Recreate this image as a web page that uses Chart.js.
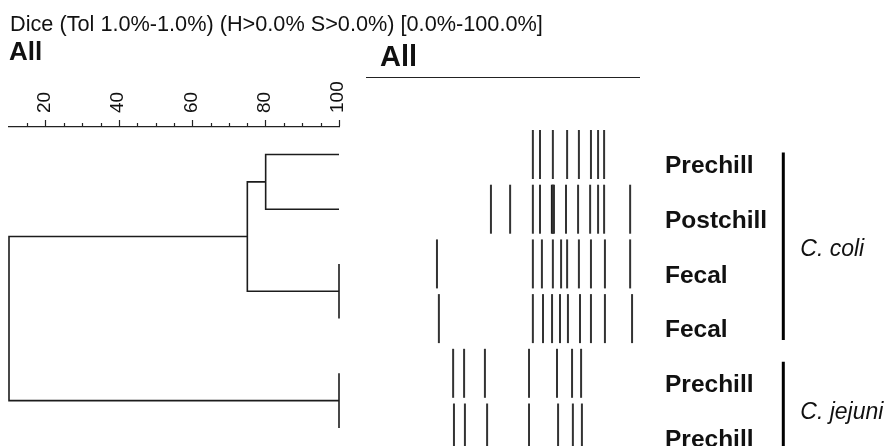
<!DOCTYPE html>
<html>
<head>
<meta charset="utf-8">
<script src="https://cdn.jsdelivr.net/npm/chart.js@4.4.1/dist/chart.umd.min.js"></script>
<style>
  body { margin: 0; background: #fff; }
  #wrap { position: relative; width: 886px; height: 446px; overflow: hidden;
          font-family: "Liberation Sans", Arial, sans-serif; color: #111; }
  .t { position: absolute; line-height: 1; white-space: nowrap; }
  #dendroBox { position: absolute; left: 0; top: 0; width: 350px; height: 446px; }
  #gelBox { position: absolute; left: 350px; top: 0; width: 536px; height: 446px; }
  #rule { position: absolute; left: 366px; top: 77px; width: 274px; height: 0; border-top: 1.5px solid #222; }
</style>
</head>
<body>
<div id="wrap">
  <div id="dendroBox"><canvas id="dendro"></canvas></div>
  <div id="gelBox"><canvas id="gel"></canvas></div>
  <div id="rule"></div>
</div>
<script>
const samples = ['Prechill', 'Postchill', 'Fecal', 'Fecal', 'Prechill', 'Prechill'];
const species = ['C. coli', 'C. jejuni'];
const speciesSpan = [[0.963, 4.39], [4.79, 6.75]];   // rows covered by each bracket
const speciesLabelRow = [2.86, 5.84];
const scaleLabels = [20, 40, 60, 80, 100];

// dendrogram merges: node ids (0-5 leaves, 6+ earlier merges) and Dice similarity (%)
const mergePairs = [[0, 1], [2, 3], [6, 7], [4, 5], [8, 9]];
const mergeSim = [80, 100, 75, 100, 10];

// band positions, % of the gel lane width
const bands1 = [60.9, 63.5, 68.2, 73.4, 77.7, 82.1, 84.7, 86.9];
const bands2 = [45.6, 52.6, 60.9, 63.5, 68.2, 73.0, 77.4, 81.8, 84.7, 86.9, 96.4];
const bands3 = [25.9, 60.9, 64.2, 68.2, 71.2, 73.4, 77.7, 82.1, 87.2, 96.4];
const bands4 = [26.6, 60.9, 64.6, 67.9, 70.8, 73.7, 78.1, 82.1, 87.2, 97.1];
const bands5 = [31.8, 35.8, 43.4, 59.5, 69.7, 75.2, 78.5];
const bands6 = [32.1, 36.1, 44.2, 59.5, 70.1, 75.5, 78.8];
const bandRows = [bands1, bands2, bands3, bands4, bands5, bands6];
const strongBands = [[2, 68.2]];   // row, position

const yMin = 0.497, yMax = 6.329;
const gelMax = 189.78;
const bracketPos = 152.3;

// build bracket paths of the tree
const nodes = samples.map((s, i) => ({ x: 100, y: i + 1 }));
const treePts = [];
mergePairs.forEach(([a, b], k) => {
  const A = nodes[a], B = nodes[b], s = mergeSim[k];
  treePts.push({ x: A.x, y: A.y }, { x: s, y: A.y }, { x: s, y: B.y }, { x: B.x, y: B.y }, { x: s, y: null });
  nodes.push({ x: s, y: (A.y + B.y) / 2 });
});

const minorTicks = {
  id: 'minorTicks',
  afterDraw(chart) {
    const s = chart.scales.x, ctx = chart.ctx;
    ctx.save();
    ctx.strokeStyle = '#222';
    ctx.lineWidth = 1.2;
    s.ticks.forEach(t => {
      if (scaleLabels.includes(t.value) || t.value <= s.min) return;
      const px = Math.round(s.getPixelForValue(t.value)) + 0.5;
      ctx.beginPath();
      ctx.moveTo(px, s.bottom);
      ctx.lineTo(px, s.bottom - 4);
      ctx.stroke();
    });
    ctx.restore();
  }
};

new Chart(document.getElementById('dendro'), {
  type: 'line',
  data: { datasets: [{ data: treePts, borderColor: '#1c1c1c', borderWidth: 1.6,
                       pointRadius: 0, tension: 0, clip: false, spanGaps: false }] },
  options: {
    responsive: true, maintainAspectRatio: false, animation: false, events: [],
    layout: { autoPadding: false, padding: { left: 9, right: 11, top: 77, bottom: 0 } },
    plugins: { legend: { display: false }, tooltip: { enabled: false } },
    scales: {
      x: {
        type: 'linear', position: 'top', min: 10, max: 100,
        afterFit(scale) { scale.height = 50; scale.paddingLeft = 0; scale.paddingRight = 0; },
        ticks: {
          stepSize: 5, autoSkip: false, minRotation: 90, maxRotation: 90, padding: 7, labelOffset: 22,
          color: '#111', font: { family: '"Liberation Sans", Arial', size: 19 },
          callback: v => scaleLabels.includes(v) ? String(v) : ''
        },
        grid: {
          drawOnChartArea: false, drawTicks: true, tickLength: 7, tickWidth: 1.2,
          tickColor: ctx => scaleLabels.includes(ctx.tick && ctx.tick.value) ? '#222' : 'rgba(0,0,0,0)'
        },
        border: { display: true, color: '#222', width: 1.2 }
      },
      y: { type: 'linear', display: false, reverse: true, min: yMin, max: yMax }
    }
  },
  plugins: [minorTicks]
});

const gelSets = bandRows.map((row, r) => ({
  type: 'scatter',
  data: row.map(x => ({ x, y: r + 1 })),
  pointStyle: 'line', pointRotation: 90, pointRadius: 24.5,
  pointBorderWidth: 2, pointBorderColor: '#333', pointBackgroundColor: '#333', clip: false
}));
gelSets.push({
  type: 'scatter',
  data: strongBands.map(([r, x]) => ({ x, y: r })),
  pointStyle: 'line', pointRotation: 90, pointRadius: 24.5,
  pointBorderWidth: 4, pointBorderColor: '#1a1a1a', clip: false
});
speciesSpan.forEach(([a, b]) => gelSets.push({
  type: 'line',
  data: [{ x: bracketPos, y: a }, { x: bracketPos, y: b }],
  borderColor: '#000', borderWidth: 3, pointRadius: 0, clip: false
}));

const gel = new Chart(document.getElementById('gel'), {
  type: 'scatter',
  data: { datasets: gelSets },
  options: {
    responsive: true, maintainAspectRatio: false, animation: false, events: [],
    layout: { autoPadding: false, padding: { left: 16, right: 0, top: 127, bottom: 0 } },
    plugins: { legend: { display: false }, tooltip: { enabled: false } },
    scales: {
      x: { type: 'linear', display: false, min: 0, max: gelMax },
      y: { type: 'linear', display: false, reverse: true, min: yMin, max: yMax }
    }
  }
});

// text
const wrap = document.getElementById('wrap');
function put(text, x, baseline, size, weight, style) {
  const d = document.createElement('div');
  d.className = 't';
  d.textContent = text;
  d.style.left = x + 'px';
  d.style.top = (baseline - 0.8465 * size) + 'px';
  d.style.fontSize = size + 'px';
  d.style.fontWeight = weight || 'normal';
  d.style.fontStyle = style || 'normal';
  wrap.appendChild(d);
}
put('Dice (Tol 1.0%-1.0%) (H>0.0% S>0.0%) [0.0%-100.0%]', 10, 31, 21.7);
put('All', 9, 60, 26, 'bold');
put('All', 380, 67, 29, 'bold');
const ys = gel.scales.y, xs = gel.scales.x;
samples.forEach((s, i) => put(s, 665, ys.getPixelForValue(i + 1) + 19.5, 24.5, 'bold'));
species.forEach((s, i) => {
  put(s, xs.getPixelForValue(bracketPos) + 350 + 17, ys.getPixelForValue(speciesLabelRow[i]), 23, 'normal', 'italic');
});
</script>
</body>
</html>
